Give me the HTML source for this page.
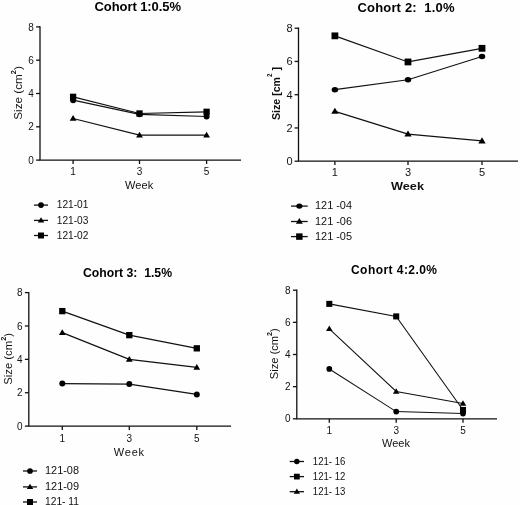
<!DOCTYPE html>
<html><head><meta charset="utf-8"><title>Cohort lesion size by week</title>
<style>
html,body{margin:0;padding:0;background:#fefefc;}
svg{display:block;filter:grayscale(1);}
</style></head>
<body>
<svg width="520" height="505" viewBox="0 0 520 505">
<rect width="520" height="505" fill="#fefefc"/>
<g stroke="#111" stroke-width="1.3" fill="none" stroke-linecap="butt">
<path d="M40 26.299999999999997 V160.1 H241"/>
<path d="M36.1 160.10 H40"/>
<path d="M36.1 126.80 H40"/>
<path d="M36.1 93.50 H40"/>
<path d="M36.1 60.20 H40"/>
<path d="M36.1 26.90 H40"/>
<path d="M73.1 160.1 V164.0"/>
<path d="M139.5 160.1 V164.0"/>
<path d="M206.6 160.1 V164.0"/>
</g>
<g font-family='"Liberation Sans", sans-serif' font-size="10" fill="#111">
<text x="33.7" y="163.70" text-anchor="end">0</text>
<text x="33.7" y="130.40" text-anchor="end">2</text>
<text x="33.7" y="97.10" text-anchor="end">4</text>
<text x="33.7" y="63.80" text-anchor="end">6</text>
<text x="33.7" y="30.50" text-anchor="end">8</text>
<text x="73.1" y="174.80" text-anchor="middle">1</text>
<text x="139.5" y="174.80" text-anchor="middle">3</text>
<text x="206.6" y="174.80" text-anchor="middle">5</text>
</g>
<text x="124.9" y="189.3" font-family='"Liberation Sans", sans-serif' font-size="11" font-weight="normal" fill="#111" textLength="28.4" lengthAdjust="spacing">Week</text>
<text transform="translate(21.8,119.7) rotate(-90)" font-family='"Liberation Sans", sans-serif' font-size="11" font-weight="normal" fill="#111" textLength="53.5" lengthAdjust="spacingAndGlyphs" xml:space="preserve">Size (cm<tspan font-size="7" dy="-6.0" font-weight="bold">2</tspan><tspan dy="6.0">)</tspan></text>
<text x="94.5" y="11" font-family='"Liberation Sans", sans-serif' font-size="13" font-weight="bold" fill="#000" textLength="86.5" lengthAdjust="spacing" xml:space="preserve">Cohort 1:0.5%</text>
<path d="M73.10 100.16 L139.50 114.31 L206.60 116.48" stroke="#111" stroke-width="1.2" fill="none"/>
<path d="M73.10 118.47 L139.50 135.12 L206.60 135.12" stroke="#111" stroke-width="1.2" fill="none"/>
<path d="M73.10 96.83 L139.50 113.48 L206.60 111.81" stroke="#111" stroke-width="1.2" fill="none"/>
<g fill="#000"><ellipse cx="73.10" cy="100.16" rx="3.00" ry="3.00"/><ellipse cx="139.50" cy="114.31" rx="3.00" ry="3.00"/><ellipse cx="206.60" cy="116.48" rx="3.00" ry="3.00"/></g>
<g fill="#000"><polygon points="73.10,115.07 76.50,120.77 69.70,120.77"/><polygon points="139.50,131.72 142.90,137.43 136.10,137.43"/><polygon points="206.60,131.72 210.00,137.43 203.20,137.43"/></g>
<g fill="#000"><rect x="69.95" y="93.68" width="6.30" height="6.30"/><rect x="136.35" y="110.33" width="6.30" height="6.30"/><rect x="203.45" y="108.66" width="6.30" height="6.30"/></g>
<path d="M34 205.1 H48" stroke="#111" stroke-width="1.3"/>
<g fill="#000"><ellipse cx="41.00" cy="205.10" rx="2.85" ry="2.85"/></g>
<text x="56.8" y="208.30" font-family='"Liberation Sans", sans-serif' font-size="10" fill="#111" textLength="31.6" lengthAdjust="spacingAndGlyphs" xml:space="preserve">121-01</text>
<path d="M34 220.4 H48" stroke="#111" stroke-width="1.3"/>
<g fill="#000"><polygon points="41.00,217.17 44.23,222.59 37.77,222.59"/></g>
<text x="56.8" y="223.60" font-family='"Liberation Sans", sans-serif' font-size="10" fill="#111" textLength="31.6" lengthAdjust="spacingAndGlyphs" xml:space="preserve">121-03</text>
<path d="M34 235.5 H48" stroke="#111" stroke-width="1.3"/>
<g fill="#000"><rect x="38.01" y="232.51" width="5.98" height="5.98"/></g>
<text x="56.8" y="238.70" font-family='"Liberation Sans", sans-serif' font-size="10" fill="#111" textLength="31.6" lengthAdjust="spacingAndGlyphs" xml:space="preserve">121-02</text>
<g stroke="#111" stroke-width="1.3" fill="none" stroke-linecap="butt">
<path d="M298.5 27.599999999999998 V161.2 H518"/>
<path d="M294.6 161.20 H298.5"/>
<path d="M294.6 127.95 H298.5"/>
<path d="M294.6 94.70 H298.5"/>
<path d="M294.6 61.45 H298.5"/>
<path d="M294.6 28.20 H298.5"/>
<path d="M334.9 161.2 V165.1"/>
<path d="M408 161.2 V165.1"/>
<path d="M482 161.2 V165.1"/>
</g>
<g font-family='"Liberation Sans", sans-serif' font-size="11" fill="#111">
<text x="292.7" y="165.16" text-anchor="end">0</text>
<text x="292.7" y="131.91" text-anchor="end">2</text>
<text x="292.7" y="98.66" text-anchor="end">4</text>
<text x="292.7" y="65.41" text-anchor="end">6</text>
<text x="292.7" y="32.16" text-anchor="end">8</text>
<text x="334.9" y="176.46" text-anchor="middle">1</text>
<text x="408" y="176.46" text-anchor="middle">3</text>
<text x="482" y="176.46" text-anchor="middle">5</text>
</g>
<text x="391" y="190.2" font-family='"Liberation Sans", sans-serif' font-size="11.5" font-weight="bold" fill="#111" textLength="33" lengthAdjust="spacingAndGlyphs">Week</text>
<text transform="translate(280,120) rotate(-90)" font-family='"Liberation Sans", sans-serif' font-size="11" font-weight="bold" fill="#111" textLength="53" lengthAdjust="spacingAndGlyphs" xml:space="preserve">Size [cm<tspan font-size="6.5" dy="-8.3" font-weight="bold">2</tspan><tspan dy="8.3"> ]</tspan></text>
<text x="357.5" y="12" font-family='"Liberation Sans", sans-serif' font-size="13" font-weight="bold" fill="#000" textLength="97" lengthAdjust="spacing" xml:space="preserve">Cohort 2:  1.0%</text>
<path d="M334.90 89.71 L408.00 79.74 L482.00 56.46" stroke="#111" stroke-width="1.2" fill="none"/>
<path d="M334.90 111.32 L408.00 134.10 L482.00 140.92" stroke="#111" stroke-width="1.2" fill="none"/>
<path d="M334.90 35.85 L408.00 61.95 L482.00 48.32" stroke="#111" stroke-width="1.2" fill="none"/>
<g fill="#000"><ellipse cx="334.90" cy="89.71" rx="3.24" ry="2.79"/><ellipse cx="408.00" cy="79.74" rx="3.24" ry="2.79"/><ellipse cx="482.00" cy="56.46" rx="3.24" ry="2.79"/></g>
<g fill="#000"><polygon points="334.90,107.65 338.57,113.81 331.23,113.81"/><polygon points="408.00,130.43 411.67,136.59 404.33,136.59"/><polygon points="482.00,137.25 485.67,143.40 478.33,143.40"/></g>
<g fill="#000"><rect x="331.50" y="32.45" width="6.80" height="6.80"/><rect x="404.60" y="58.55" width="6.80" height="6.80"/><rect x="478.60" y="44.91" width="6.80" height="6.80"/></g>
<path d="M291 206.1 H307.7" stroke="#111" stroke-width="1.3"/>
<g fill="#000"><ellipse cx="299.35" cy="206.10" rx="3.08" ry="2.65"/></g>
<text x="315" y="209.41" font-family='"Liberation Sans", sans-serif' font-size="10.3" fill="#111" textLength="37" lengthAdjust="spacingAndGlyphs" xml:space="preserve">121 -04</text>
<path d="M291 221.5 H307.7" stroke="#111" stroke-width="1.3"/>
<g fill="#000"><polygon points="299.35,218.01 302.84,223.86 295.86,223.86"/></g>
<text x="315" y="224.81" font-family='"Liberation Sans", sans-serif' font-size="10.3" fill="#111" textLength="37" lengthAdjust="spacingAndGlyphs" xml:space="preserve">121 -06</text>
<path d="M291 236.6 H307.7" stroke="#111" stroke-width="1.3"/>
<g fill="#000"><rect x="296.12" y="233.37" width="6.46" height="6.46"/></g>
<text x="315" y="239.91" font-family='"Liberation Sans", sans-serif' font-size="10.3" fill="#111" textLength="37" lengthAdjust="spacingAndGlyphs" xml:space="preserve">121 -05</text>
<g stroke="#111" stroke-width="1.3" fill="none" stroke-linecap="butt">
<path d="M28.8 292.0 V426.1 H231"/>
<path d="M24.900000000000002 426.10 H28.8"/>
<path d="M24.900000000000002 392.73 H28.8"/>
<path d="M24.900000000000002 359.35 H28.8"/>
<path d="M24.900000000000002 325.98 H28.8"/>
<path d="M24.900000000000002 292.60 H28.8"/>
<path d="M62.3 426.1 V430.0"/>
<path d="M129.3 426.1 V430.0"/>
<path d="M196.8 426.1 V430.0"/>
</g>
<g font-family='"Liberation Sans", sans-serif' font-size="10" fill="#111">
<text x="22.5" y="429.70" text-anchor="end">0</text>
<text x="22.5" y="396.33" text-anchor="end">2</text>
<text x="22.5" y="362.95" text-anchor="end">4</text>
<text x="22.5" y="329.58" text-anchor="end">6</text>
<text x="22.5" y="296.20" text-anchor="end">8</text>
<text x="62.3" y="441.60" text-anchor="middle">1</text>
<text x="129.3" y="441.60" text-anchor="middle">3</text>
<text x="196.8" y="441.60" text-anchor="middle">5</text>
</g>
<text x="113.8" y="456.1" font-family='"Liberation Sans", sans-serif' font-size="11" font-weight="normal" fill="#111" textLength="30.3" lengthAdjust="spacing">Week</text>
<text transform="translate(12.2,384.8) rotate(-90)" font-family='"Liberation Sans", sans-serif' font-size="11" font-weight="normal" fill="#111" textLength="51.8" lengthAdjust="spacingAndGlyphs" xml:space="preserve">Size (cm<tspan font-size="7" dy="-6.0" font-weight="bold">2</tspan><tspan dy="6.0">)</tspan></text>
<text x="83" y="276.5" font-family='"Liberation Sans", sans-serif' font-size="13" font-weight="bold" fill="#000" textLength="89" lengthAdjust="spacingAndGlyphs" xml:space="preserve">Cohort 3:  1.5%</text>
<path d="M62.30 383.55 L129.30 384.05 L196.80 394.39" stroke="#111" stroke-width="1.2" fill="none"/>
<path d="M62.30 332.65 L129.30 359.35 L196.80 367.36" stroke="#111" stroke-width="1.2" fill="none"/>
<path d="M62.30 311.12 L129.30 335.15 L196.80 348.34" stroke="#111" stroke-width="1.2" fill="none"/>
<g fill="#000"><ellipse cx="62.30" cy="383.55" rx="3.00" ry="3.00"/><ellipse cx="129.30" cy="384.05" rx="3.00" ry="3.00"/><ellipse cx="196.80" cy="394.39" rx="3.00" ry="3.00"/></g>
<g fill="#000"><polygon points="62.30,329.25 65.70,334.95 58.90,334.95"/><polygon points="129.30,355.95 132.70,361.65 125.90,361.65"/><polygon points="196.80,363.96 200.20,369.66 193.40,369.66"/></g>
<g fill="#000"><rect x="59.15" y="307.97" width="6.30" height="6.30"/><rect x="126.15" y="332.00" width="6.30" height="6.30"/><rect x="193.65" y="345.19" width="6.30" height="6.30"/></g>
<path d="M23 471 H37" stroke="#111" stroke-width="1.3"/>
<g fill="#000"><ellipse cx="30.00" cy="471.00" rx="2.85" ry="2.85"/></g>
<text x="45" y="474.20" font-family='"Liberation Sans", sans-serif' font-size="10" fill="#111" textLength="34" lengthAdjust="spacingAndGlyphs" xml:space="preserve">121-08</text>
<path d="M23 486.9 H37" stroke="#111" stroke-width="1.3"/>
<g fill="#000"><polygon points="30.00,483.67 33.23,489.08 26.77,489.08"/></g>
<text x="45" y="490.10" font-family='"Liberation Sans", sans-serif' font-size="10" fill="#111" textLength="34" lengthAdjust="spacingAndGlyphs" xml:space="preserve">121-09</text>
<path d="M23 502 H37" stroke="#111" stroke-width="1.3"/>
<g fill="#000"><rect x="27.01" y="499.01" width="5.98" height="5.98"/></g>
<text x="45" y="505.20" font-family='"Liberation Sans", sans-serif' font-size="10" fill="#111" textLength="34" lengthAdjust="spacingAndGlyphs" xml:space="preserve">121- 11</text>
<g stroke="#111" stroke-width="1.3" fill="none" stroke-linecap="butt">
<path d="M296.8 289.59999999999997 V418.8 H497"/>
<path d="M292.90000000000003 418.80 H296.8"/>
<path d="M292.90000000000003 386.65 H296.8"/>
<path d="M292.90000000000003 354.50 H296.8"/>
<path d="M292.90000000000003 322.35 H296.8"/>
<path d="M292.90000000000003 290.20 H296.8"/>
<path d="M329.3 418.8 V422.7"/>
<path d="M396.2 418.8 V422.7"/>
<path d="M463 418.8 V422.7"/>
</g>
<g font-family='"Liberation Sans", sans-serif' font-size="10" fill="#111">
<text x="290.5" y="422.40" text-anchor="end">0</text>
<text x="290.5" y="390.25" text-anchor="end">2</text>
<text x="290.5" y="358.10" text-anchor="end">4</text>
<text x="290.5" y="325.95" text-anchor="end">6</text>
<text x="290.5" y="293.80" text-anchor="end">8</text>
<text x="329.3" y="433.70" text-anchor="middle">1</text>
<text x="396.2" y="433.70" text-anchor="middle">3</text>
<text x="463" y="433.70" text-anchor="middle">5</text>
</g>
<text x="382" y="447" font-family='"Liberation Sans", sans-serif' font-size="11" font-weight="normal" fill="#111" textLength="28" lengthAdjust="spacing">Week</text>
<text transform="translate(277.6,379.2) rotate(-90)" font-family='"Liberation Sans", sans-serif' font-size="11" font-weight="normal" fill="#111" textLength="51" lengthAdjust="spacingAndGlyphs" xml:space="preserve">Size (cm<tspan font-size="7" dy="-6.0" font-weight="bold">2</tspan><tspan dy="6.0">)</tspan></text>
<text x="351" y="274.3" font-family='"Liberation Sans", sans-serif' font-size="12" font-weight="bold" fill="#000" textLength="86" lengthAdjust="spacing" xml:space="preserve">Cohort 4:2.0%</text>
<path d="M329.30 368.97 L396.20 411.57 L463.00 413.50" stroke="#111" stroke-width="1.05" fill="none"/>
<path d="M329.30 303.86 L396.20 316.40 L463.00 409.96" stroke="#111" stroke-width="1.05" fill="none"/>
<path d="M329.30 328.78 L396.20 391.47 L463.00 403.53" stroke="#111" stroke-width="1.05" fill="none"/>
<g fill="#000"><ellipse cx="329.30" cy="368.97" rx="2.88" ry="2.88"/><ellipse cx="396.20" cy="411.57" rx="2.88" ry="2.88"/><ellipse cx="463.00" cy="413.50" rx="2.88" ry="2.88"/></g>
<g fill="#000"><rect x="326.28" y="300.84" width="6.05" height="6.05"/><rect x="393.18" y="313.38" width="6.05" height="6.05"/><rect x="459.98" y="406.93" width="6.05" height="6.05"/></g>
<g fill="#000"><polygon points="329.30,325.52 332.56,330.99 326.04,330.99"/><polygon points="396.20,388.21 399.46,393.68 392.94,393.68"/><polygon points="463.00,400.26 466.26,405.74 459.74,405.74"/></g>
<path d="M289.7 461.5 H304" stroke="#111" stroke-width="1.3"/>
<g fill="#000"><ellipse cx="296.85" cy="461.50" rx="2.74" ry="2.74"/></g>
<text x="312.8" y="464.70" font-family='"Liberation Sans", sans-serif' font-size="10" fill="#111" textLength="32.5" lengthAdjust="spacingAndGlyphs" xml:space="preserve">121- 16</text>
<path d="M289.7 476.6 H304" stroke="#111" stroke-width="1.3"/>
<g fill="#000"><rect x="293.98" y="473.73" width="5.75" height="5.75"/></g>
<text x="312.8" y="479.80" font-family='"Liberation Sans", sans-serif' font-size="10" fill="#111" textLength="32.5" lengthAdjust="spacingAndGlyphs" xml:space="preserve">121- 12</text>
<path d="M289.7 491.7 H304" stroke="#111" stroke-width="1.3"/>
<g fill="#000"><polygon points="296.85,488.60 299.95,493.80 293.75,493.80"/></g>
<text x="312.8" y="494.90" font-family='"Liberation Sans", sans-serif' font-size="10" fill="#111" textLength="32.5" lengthAdjust="spacingAndGlyphs" xml:space="preserve">121- 13</text>
</svg>
</body></html>
